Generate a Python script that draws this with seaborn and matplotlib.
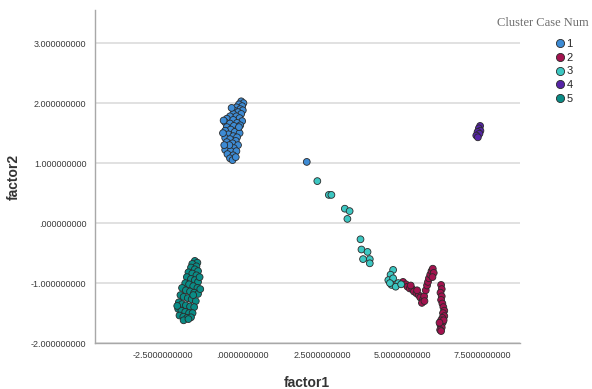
import pandas as pd
import matplotlib
matplotlib.use("Agg")
import matplotlib.pyplot as plt
from matplotlib.ticker import FuncFormatter
import seaborn as sns

# cluster 1 (blue)
c1_x = [-0.05, 0.02, -0.12, -0.02, -0.2, -0.08, 0.0, -0.25, -0.15,
        -0.3, -0.05, -0.4, -0.2, -0.1, -0.5, -0.3, -0.02, -0.55, -0.4, -0.18, -0.08, -0.28, -0.5,
        -0.15, -0.38, -0.55, -0.25, -0.1, -0.45, -0.3, -0.18, -0.55, -0.4,
        -0.22, -0.5, -0.32, -0.15, -0.45, -0.28, -0.55, -0.38, -0.2, -0.48, -0.3, -0.4, -0.32,
        -0.6, -0.62, -0.35, -0.12, -0.42, -0.22, -0.58,
        2.0]
c1_y = [2.03, 2.0, 1.98, 1.95, 1.93, 1.9, 1.88, 1.87, 1.85,
        1.82, 1.82, 1.78, 1.78, 1.75, 1.74, 1.72, 1.7, 1.68, 1.66, 1.67, 1.63, 1.62, 1.6,
        1.57, 1.56, 1.54, 1.52, 1.5, 1.48, 1.45, 1.43, 1.42, 1.4,
        1.37, 1.35, 1.33, 1.3, 1.28, 1.25, 1.22, 1.2, 1.2, 1.15, 1.13, 1.08, 1.05,
        1.71, 1.5, 1.92, 1.6, 1.3, 1.1, 1.3,
        1.02]

# cluster 2 (crimson)
c2_x = [5.01, 5.1, 5.15, 5.22, 5.3, 5.35, 5.43, 5.5, 5.55, 5.63, 5.6, 5.67, 5.72, 5.76,
        5.79, 5.82, 5.86, 5.9, 5.94, 5.97, 5.93, 5.45, 5.25, 5.68,
        6.2, 6.22, 6.18, 6.22, 6.2, 6.24, 6.27, 6.3, 6.26, 6.3, 6.24, 6.2, 6.25, 6.18,
        6.22, 6.17, 6.2, 6.28, 6.15]
c2_y = [-0.98, -1.02, -1.06, -1.09, -1.1, -1.14, -1.17, -1.2, -1.24, -1.28, -1.33, -1.22, -1.12, -1.04,
        -0.98, -0.92, -0.86, -0.8, -0.76, -0.83, -0.9, -1.12, -1.04, -1.3,
        -1.03, -1.1, -1.16, -1.22, -1.28, -1.34, -1.4, -1.46, -1.5, -1.55, -1.58, -1.62, -1.66, -1.7,
        -1.74, -1.78, -1.8, -1.62, -1.66]

# cluster 3 (turquoise)
c3_x = [2.33, 2.69, 2.77, 3.19, 3.34, 3.27, 3.68, 3.71, 3.90, 3.76, 3.97, 3.97,
        4.70, 4.62, 4.55, 4.70, 4.86, 4.65, 4.78, 4.95, 4.6]
c3_y = [0.70, 0.47, 0.47, 0.24, 0.20, 0.07, -0.27, -0.44, -0.48, -0.60, -0.60, -0.67,
        -0.78, -0.86, -0.95, -0.92, -1.0, -1.03, -1.06, -1.02, -1.0]

# cluster 4 (purple)
c4_x = [7.42, 7.38, 7.43, 7.34, 7.4, 7.3, 7.35]
c4_y = [1.62, 1.58, 1.54, 1.52, 1.49, 1.46, 1.43]

# cluster 5 (dark teal)
c5_x = [-1.5, -1.42, -1.58, -1.45, -1.62, -1.5, -1.4,
        -1.7, -1.58, -1.45, -1.75, -1.62, -1.5, -1.4,
        -1.8, -1.68, -1.55, -1.42, -1.9,
        -1.78, -1.65, -1.52, -1.4, -1.95,
        -1.85, -1.72, -1.6, -1.47, -2.0,
        -1.9, -1.78, -1.65, -1.52, -2.02,
        -1.92, -1.8, -1.68, -1.57, -1.98, -1.86, -1.74, -1.62, -1.85,
        -1.35, -1.33, -2.05, -1.7, -1.55]
c5_y = [-0.63, -0.66, -0.68, -0.72, -0.74, -0.77, -0.8,
        -0.82, -0.84, -0.87, -0.9, -0.93, -0.95, -0.98,
        -1.0, -1.02, -1.05, -1.08, -1.08,
        -1.12, -1.14, -1.16, -1.18, -1.2,
        -1.23, -1.25, -1.27, -1.3, -1.32,
        -1.35, -1.37, -1.39, -1.4, -1.43,
        -1.46, -1.48, -1.5, -1.5, -1.54, -1.56, -1.58, -1.57, -1.62,
        -0.9, -1.1, -1.38, -1.6, -1.2]

clusters = ["1", "2", "3", "4", "5"]
colors = ["#3d8bd4", "#a3134f", "#3cc7c2", "#5624a6", "#0a8c86"]

xs = [c1_x, c2_x, c3_x, c4_x, c5_x]
ys = [c1_y, c2_y, c3_y, c4_y, c5_y]
rows = []
for name, cx, cy in zip(clusters, xs, ys):
    for a, b in zip(cx, cy):
        rows.append((a, b, name))
df = pd.DataFrame(rows, columns=["factor1", "factor2", "cluster"])

sns.set_style("white")
plt.rcParams["font.family"] = ["Liberation Sans", "DejaVu Sans"]

fig = plt.figure(figsize=(5.92, 3.89), dpi=100)
ax = fig.add_axes([0.160, 0.118, 0.718, 0.856])

sns.scatterplot(data=df, x="factor1", y="factor2", hue="cluster",
                hue_order=clusters, palette=dict(zip(clusters, colors)),
                s=24, edgecolor="#2a2a2a", linewidth=0.6, ax=ax, legend="full", zorder=3)

ax.set_xlim(-4.63, 8.66)
ax.set_ylim(-2.0, 3.55)
ax.set_xticks([-2.5, 0.0, 2.5, 5.0, 7.5])
ax.set_yticks([-2, -1, 0, 1, 2, 3])


def fmt_x(v, pos):
    s = f"{v:.10f}"
    return s[1:] if s.startswith("0") else s


def fmt_y(v, pos):
    s = f"{v:.9f}"
    return s[1:] if s.startswith("0") else s


ax.xaxis.set_major_formatter(FuncFormatter(fmt_x))
ax.yaxis.set_major_formatter(FuncFormatter(fmt_y))
ax.tick_params(axis="both", length=0, labelsize=6.5, labelcolor="#3a3a3a", pad=6)
ax.yaxis.grid(True, color="#dcdcdc", linewidth=1.2, zorder=0)
ax.xaxis.grid(False)
for side in ["top", "right"]:
    ax.spines[side].set_visible(False)
for side in ["left", "bottom"]:
    ax.spines[side].set_color("#a8a8a8")
    ax.spines[side].set_linewidth(1.0)

ax.set_xlabel("factor1", fontsize=10, fontweight="bold", color="#333333", labelpad=11)
ax.set_ylabel("factor2", fontsize=10, fontweight="bold", color="#333333", labelpad=7)

handles, labels = ax.get_legend_handles_labels()
ax.get_legend().remove()
fig.text(0.995, 0.94, "Cluster Case Num", ha="right", va="center",
         fontsize=9, color="#6e6e6e", family=["Liberation Serif", "DejaVu Serif"])
fig.legend(handles, labels, loc="upper left", bbox_to_anchor=(0.925, 0.915),
           frameon=False, fontsize=8, handletextpad=0.0, labelspacing=0.35,
           borderpad=0.0, handlelength=1.2, markerscale=1.2)

fig.savefig("out.png", dpi=100)
